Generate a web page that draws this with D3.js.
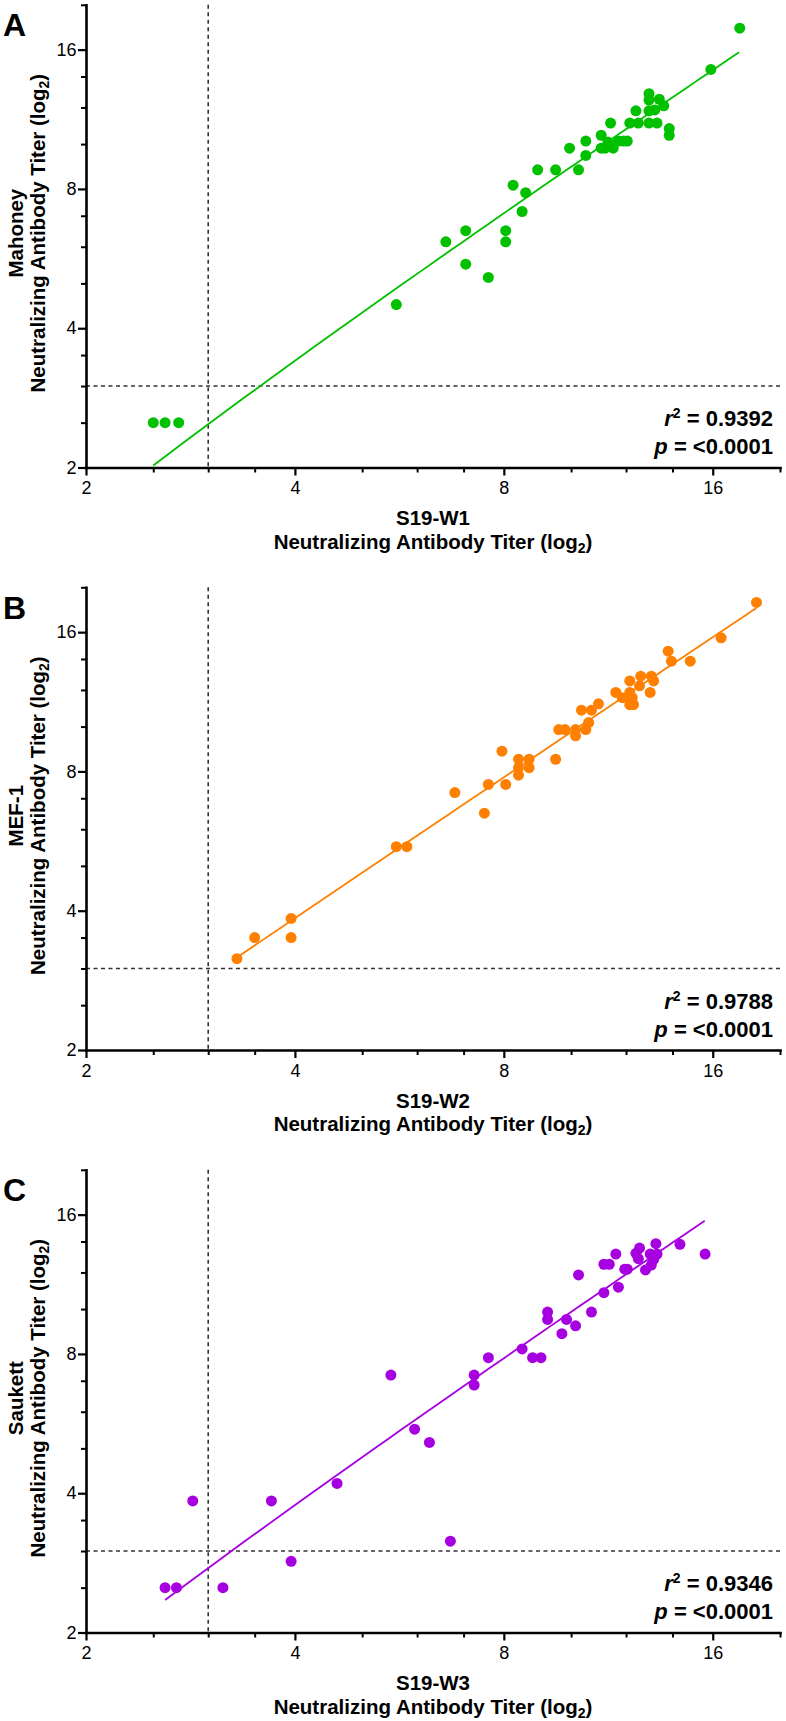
<!DOCTYPE html>
<html>
<head>
<meta charset="utf-8">
<script src="https://cdn.jsdelivr.net/npm/d3@7"></script>
<style>
  body { margin: 0; background: #fff; }
  svg text { font-family: "Liberation Sans", Arial, sans-serif; fill: #000; }
  .axis path, .axis line { stroke: #000; }
  .axis text { font-size: 18px; }
</style>
</head>
<body>
<svg id="chart"></svg>
<script>
// ---- data (log2 titers) ----
const panelLetters = ['A', 'B', 'C'];
const virusNames = ['Mahoney', 'MEF-1', 'Saukett'];
const serumNames = ['S19-W1', 'S19-W2', 'S19-W3'];
const r2Labels = ['0.9392', '0.9788', '0.9346'];
const pLabels = ['<0.0001', '<0.0001', '<0.0001'];
const majorTicks = [2, 4, 8, 16];
const minorTicks = [2.5, 3, 3.5, 5, 6, 7, 10, 12, 14, 20];
const detectionLimit = 3;

const mahoneyX = [17.5, 15.9, 12.95, 12.95, 13.4, 13.6, 12.4, 12.95, 13.2, 12.15, 12.5, 12.95, 13.3, 11.4,
  13.85, 13.85, 11.05, 10.5, 9.95, 11.05, 11.2, 11.3, 11.5, 11.7, 11.9, 12.05, 10.5, 10.25, 9.5, 8.95,
  8.25, 8.6, 8.5, 8.05, 8.05, 7.05, 6.6, 7.05, 7.6, 5.6, 2.5, 2.6, 2.72];
const mahoneyY = [17.8, 14.5, 12.85, 12.45, 12.5, 12.1, 11.8, 11.8, 11.85, 11.1, 11.1, 11.1, 11.1, 11.1,
  10.8, 10.45, 10.45, 10.15, 9.8, 9.8, 9.8, 10.1, 9.8, 10.15, 10.15, 10.15, 9.45, 8.8, 8.8, 8.8,
  8.15, 7.85, 7.15, 6.5, 6.15, 6.5, 6.15, 5.5, 5.15, 4.5, 2.5, 2.5, 2.5];

const mef1X = [18.5, 16.45, 13.8, 13.95, 14.85, 12.15, 12.6, 13.05, 13.15, 12.55, 11.6, 11.85, 12.15, 12.25,
  12.15, 12.3, 13.0, 10.95, 10.7, 10.35, 10.6, 10.5, 10.15, 10.15, 9.6, 9.8, 9.5, 8.7, 8.4, 8.4,
  8.7, 8.4, 7.95, 7.6, 8.05, 6.8, 7.5, 5.6, 5.8, 3.3, 3.5, 3.95, 3.95];
const mef1Y = [18.55, 15.55, 14.55, 13.85, 13.85, 12.55, 12.85, 12.85, 12.55, 12.25, 11.85, 11.55, 11.85, 11.55,
  11.15, 11.15, 11.85, 11.2, 10.85, 10.85, 10.2, 9.85, 9.85, 9.55, 9.85, 9.85, 8.5, 8.5, 8.5, 8.15,
  8.15, 7.85, 8.85, 7.5, 7.5, 7.2, 6.5, 5.5, 5.5, 3.15, 3.5, 3.85, 3.5];

const saukettX = [15.6, 14.35, 13.25, 12.55, 12.4, 12.5, 11.6, 11.15, 11.35, 11.95, 12.05, 13.0, 13.3, 13.15,
  13.05, 12.8, 10.25, 11.7, 11.15, 10.7, 9.25, 9.25, 9.85, 10.15, 9.7, 8.5, 8.8, 9.05, 7.6, 7.25,
  7.25, 5.5, 5.95, 6.25, 6.7, 4.6, 3.7, 2.85, 3.95, 2.6, 2.7, 3.15];
const saukettY = [13.15, 13.8, 13.85, 13.55, 13.2, 12.85, 13.15, 12.5, 12.5, 12.2, 12.2, 13.15, 13.15, 12.8,
  12.45, 12.15, 11.85, 11.15, 10.85, 9.85, 9.85, 9.5, 9.5, 9.2, 8.85, 8.2, 7.85, 7.85, 7.85, 7.2,
  6.85, 7.2, 5.5, 5.15, 3.15, 4.2, 3.85, 3.85, 2.85, 2.5, 2.5, 2.5];

// regression line end points (linear fit, drawn on the log axes)
const fitMahoney = { x: [2.5, 17.46], y: [2.02, 15.8] };
const fitMef1 = { x: [3.27, 18.5], y: [3.14, 18.05] };
const fitSaukett = { x: [2.6, 15.58], y: [2.35, 15.52] };

const panels = [
  { xs: mahoneyX, ys: mahoneyY, fit: fitMahoney, color: '#00c000' },
  { xs: mef1X, ys: mef1Y, fit: fitMef1, color: '#ff8000' },
  { xs: saukettX, ys: saukettY, fit: fitSaukett, color: '#a700e0' }
];

// ---- layout ----
const config = {
  width: 786,
  height: 1721,
  panelStep: 582.5,
  left: 86,
  right: 780,
  top: 4.8,
  bottom: 467.5
};

const svg = d3.select('#chart')
  .attr('width', config.width)
  .attr('height', config.height);

const x = d3.scaleLog().base(2)
  .domain([2, 20])
  .range([config.left, config.right]);

const y = d3.scaleLog().base(2)
  .domain([2, 20])
  .range([config.bottom, config.top]);

panels.forEach((p, i) => {
  const g = svg.append('g')
    .attr('transform', `translate(0,${i * config.panelStep})`);

  // limit of detection lines
  g.append('line')
    .attr('x1', x(detectionLimit)).attr('x2', x(detectionLimit))
    .attr('y1', config.top).attr('y2', config.bottom)
    .attr('stroke', '#333').attr('stroke-width', 1.6)
    .attr('stroke-dasharray', '4,3.5');
  g.append('line')
    .attr('x1', config.left).attr('x2', config.right)
    .attr('y1', y(detectionLimit)).attr('y2', y(detectionLimit))
    .attr('stroke', '#333').attr('stroke-width', 1.6)
    .attr('stroke-dasharray', '4,3.5');

  // regression line: straight in linear space, so sample it for the log axes
  const f = p.fit;
  const fitPts = d3.range(0, 1.0001, 0.02).map(t => {
    const xv = f.x[0] + (f.x[1] - f.x[0]) * t;
    const yv = f.y[0] + (f.y[1] - f.y[0]) * t;
    return [xv, yv];
  });
  g.append('path')
    .datum(fitPts)
    .attr('fill', 'none')
    .attr('stroke', p.color)
    .attr('stroke-width', 1.8)
    .attr('d', d3.line().x(d => x(d[0])).y(d => y(d[1])));

  // points
  g.selectAll('.point')
    .data(p.xs.map((xv, k) => [xv, p.ys[k]]))
    .join('circle')
    .attr('class', 'point')
    .attr('cx', d => x(d[0]))
    .attr('cy', d => y(d[1]))
    .attr('r', 5.5)
    .attr('fill', p.color);

  // axes
  const xMinor = g.append('g').attr('class', 'axis')
    .attr('transform', `translate(0,${config.bottom})`)
    .call(d3.axisBottom(x).tickValues(minorTicks).tickSize(5).tickFormat(''));
  xMinor.select('.domain').remove();
  xMinor.selectAll('line').attr('stroke-width', 2);

  const yMinor = g.append('g').attr('class', 'axis')
    .attr('transform', `translate(${config.left},0)`)
    .call(d3.axisLeft(y).tickValues(minorTicks).tickSize(5).tickFormat(''));
  yMinor.select('.domain').remove();
  yMinor.selectAll('line').attr('stroke-width', 2);

  const xAxisG = g.append('g').attr('class', 'axis')
    .attr('transform', `translate(0,${config.bottom})`)
    .call(d3.axisBottom(x).tickValues(majorTicks).tickFormat(d3.format('d'))
      .tickSize(8).tickPadding(6).tickSizeOuter(0));
  xAxisG.selectAll('line').attr('stroke-width', 2.2);

  const yAxisG = g.append('g').attr('class', 'axis')
    .attr('transform', `translate(${config.left},0)`)
    .call(d3.axisLeft(y).tickValues(majorTicks).tickFormat(d3.format('d'))
      .tickSize(8).tickPadding(1.5).tickSizeOuter(0));
  yAxisG.selectAll('line').attr('stroke-width', 2.2);

  g.selectAll('.axis .domain')
    .attr('stroke-width', 2.6)
    .attr('stroke-linecap', 'square');
  g.selectAll('.axis text')
    .attr('font-family', '"Liberation Sans", Arial, sans-serif')
    .attr('font-size', 18)
    .attr('fill', '#000');

  // panel letter
  g.append('text')
    .attr('x', 3)
    .attr('y', 36)
    .attr('font-size', 32)
    .attr('font-weight', 'bold')
    .text(panelLetters[i]);

  // y axis title (two lines)
  const cy = (config.top + config.bottom) / 2 - 3;
  g.append('text')
    .attr('transform', `translate(22.5,${cy}) rotate(-90)`)
    .attr('text-anchor', 'middle')
    .attr('font-size', 20.5)
    .attr('font-weight', 'bold')
    .text(virusNames[i]);
  const yt = g.append('text')
    .attr('transform', `translate(44.5,${cy}) rotate(-90)`)
    .attr('text-anchor', 'middle')
    .attr('font-size', 20.5)
    .attr('font-weight', 'bold');
  yt.append('tspan').text('Neutralizing Antibody Titer (log');
  yt.append('tspan').attr('dy', 4).attr('font-size', 14).text('2');
  yt.append('tspan').attr('dy', -4).text(')');

  // x axis title (two lines)
  const cx = (config.left + config.right) / 2;
  g.append('text')
    .attr('x', cx)
    .attr('y', config.bottom + 57.5)
    .attr('text-anchor', 'middle')
    .attr('font-size', 20.5)
    .attr('font-weight', 'bold')
    .text(serumNames[i]);
  const xt = g.append('text')
    .attr('x', cx)
    .attr('y', config.bottom + 81)
    .attr('text-anchor', 'middle')
    .attr('font-size', 20.5)
    .attr('font-weight', 'bold');
  xt.append('tspan').text('Neutralizing Antibody Titer (log');
  xt.append('tspan').attr('dy', 4).attr('font-size', 14).text('2');
  xt.append('tspan').attr('dy', -4).text(')');

  // statistics
  const r2 = g.append('text')
    .attr('x', 773)
    .attr('y', config.bottom - 41.5)
    .attr('text-anchor', 'end')
    .attr('font-size', 22)
    .attr('font-weight', 'bold');
  r2.append('tspan').attr('font-style', 'italic').text('r');
  r2.append('tspan').attr('dy', -8).attr('font-size', 14).text('2');
  r2.append('tspan').attr('dy', 8).text(' = ' + r2Labels[i]);

  const pt = g.append('text')
    .attr('x', 773)
    .attr('y', config.bottom - 13.5)
    .attr('text-anchor', 'end')
    .attr('font-size', 22)
    .attr('font-weight', 'bold');
  pt.append('tspan').attr('font-style', 'italic').text('p');
  pt.append('tspan').text(' = ' + pLabels[i]);
});
</script>
</body>
</html>
